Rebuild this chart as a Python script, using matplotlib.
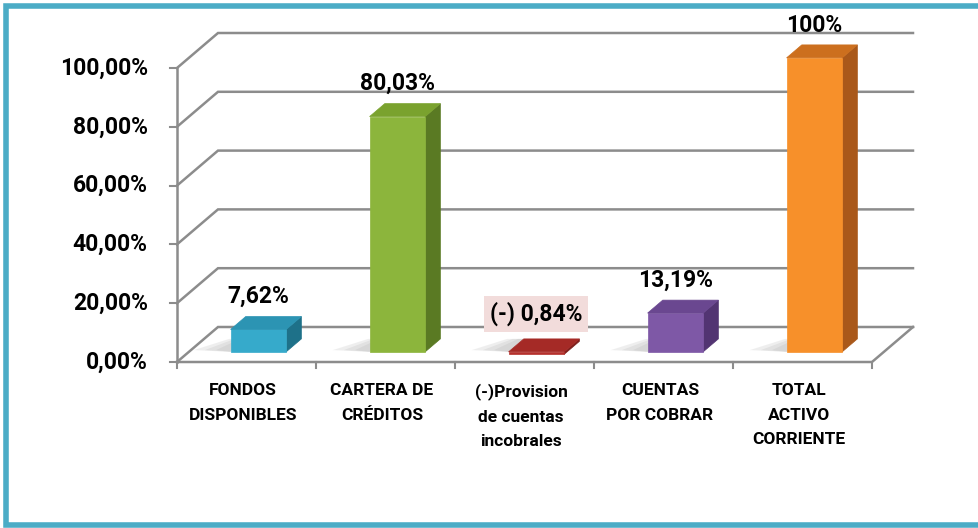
import matplotlib.pyplot as plt
from matplotlib.patches import Polygon

categories = ["FONDOS\nDISPONIBLES", "CARTERA DE\nCRÉDITOS", "(-)Provision\nde cuentas\nincobrales",
              "CUENTAS\nPOR COBRAR", "TOTAL\nACTIVO\nCORRIENTE"]
values = [7.62, 80.03, -0.84, 13.19, 100.0]
value_labels = ["7,62%", "80,03%", "(-) 0,84%", "13,19%", "100%"]
yticks = [0, 20, 40, 60, 80, 100]
ytick_labels = ["0,00%", "20,00%", "40,00%", "60,00%", "80,00%", "100,00%"]

# face colours: front, side, top
colors = [("#36AACB", "#1E7189", "#2C94B3"),
          ("#8CB53C", "#5A7A23", "#7AA22E"),
          ("#B5302C", "#7E1E1B", "#A52A26"),
          ("#7E58A6", "#523472", "#6A4790"),
          ("#F7902A", "#A9581A", "#CC6F1E")]

plt.rcParams['font.family'] = ['Roboto', 'DejaVu Sans']

W, H = 979, 528
fig = plt.figure(figsize=(W / 100, H / 100), dpi=100)
ax = fig.add_axes([0, 0, 1, 1])

# pixel layout of the front plane
px_left, px_cat = 177, 139.0
py_zero, py_per = 362, 2.94
xmin = -0.5 - px_left / px_cat
ymin = -(H - py_zero) / py_per
ax.set_xlim(xmin, xmin + W / px_cat)
ax.set_ylim(ymin, ymin + H / py_per)
ax.axis("off")

DX = 41 / px_cat      # depth offset in x units
DY = 35 / py_per      # depth offset in value units
n = len(categories)
grid_c = "#8C8C8C"


def proj(x, y, d):
    return (x + d * DX, y + d * DY)


# frame: top, left, bottom (right side runs off the picture)
fx, fb, ft = 6 / W, 3 / H, 1 - 6 / H
ax.plot([1.05, fx, fx, 1.05], [ft, ft, fb, fb], transform=ax.transAxes, color="#4BACC6",
        lw=4, solid_joinstyle="miter", zorder=0)

# walls / gridlines
left = -0.5
right = n - 0.5
for v, lab in zip(yticks, ytick_labels):
    p0 = proj(left, v, 0)
    p1 = proj(left, v, 1)
    p2 = proj(right, v, 1)
    ax.plot([p0[0], p1[0], p2[0]], [p0[1], p1[1], p2[1]], color=grid_c, lw=1.8, zorder=1,
            solid_joinstyle="miter")
    ax.plot([left - 0.05, left], [v, v], color=grid_c, lw=1.5, zorder=1)
    ax.text(left - 0.21, v, lab, ha="right", va="center",
            fontsize=16.5, fontweight="bold", color="black")
# front axis and floor front/right edges
ax.plot([left, left], [0, 100], color=grid_c, lw=1.8, zorder=1)
pr = proj(right, 0, 1)
ax.plot([left, right, pr[0]], [0, 0, pr[1]], color=grid_c, lw=1.8, zorder=1)
for k in range(n + 1):
    ax.plot([left + k, left + k], [0, -2.0], color=grid_c, lw=1.5, zorder=1)

# bars
w = 0.4
d0, d1 = 0.29, 0.66
for i, v in enumerate(values):
    x0, x1 = i - w / 2, i + w / 2
    lo, hi = min(0, v), max(0, v)
    fc, sc, tc = colors[i]
    # soft shadow on floor
    for k in range(3):
        ext = 0.08 * (k + 1)
        sh = [proj(x0 - ext - 0.04, 0, d0 + 0.05), proj(x0, 0, d0), proj(x0, 0, d1),
              proj(x0 - ext * 0.5, 0, d1)]
        ax.add_patch(Polygon(sh, closed=True, facecolor="#A6A6A6", edgecolor="none", alpha=0.18,
                             zorder=2))
    front = [proj(x0, lo, d0), proj(x1, lo, d0), proj(x1, hi, d0), proj(x0, hi, d0)]
    side = [proj(x1, lo, d0), proj(x1, lo, d1), proj(x1, hi, d1), proj(x1, hi, d0)]
    top = [proj(x0, hi, d0), proj(x1, hi, d0), proj(x1, hi, d1), proj(x0, hi, d1)]
    ax.add_patch(Polygon(side, closed=True, facecolor=sc, edgecolor=sc, lw=0.5, zorder=3))
    ax.add_patch(Polygon(front, closed=True, facecolor=fc, edgecolor=fc, lw=0.5, zorder=3))
    ax.add_patch(Polygon(top, closed=True, facecolor=tc, edgecolor=tc, lw=0.5, zorder=3))

    lx = proj(i, hi, d0)[0]
    ly = proj(i, hi, d1)[1]
    if v < 0:
        ax.annotate(value_labels[i], (lx, ly), xytext=(0, 9), textcoords="offset points",
                    ha="center", va="bottom", fontsize=16.5, fontweight="bold", zorder=5,
                    bbox=dict(boxstyle="square,pad=0.25", facecolor="#F2DCDB", edgecolor="none"))
    else:
        ax.annotate(value_labels[i], (lx, ly), xytext=(0, 6), textcoords="offset points",
                    ha="center", va="bottom", fontsize=16.5, fontweight="bold", zorder=5)

# category labels
for i, c in enumerate(categories):
    ax.text(i - 0.025, -7.3, c, ha="center", va="top", fontsize=12.5, fontweight="bold",
            linespacing=1.78)

fig.savefig("out.png", dpi=100)
